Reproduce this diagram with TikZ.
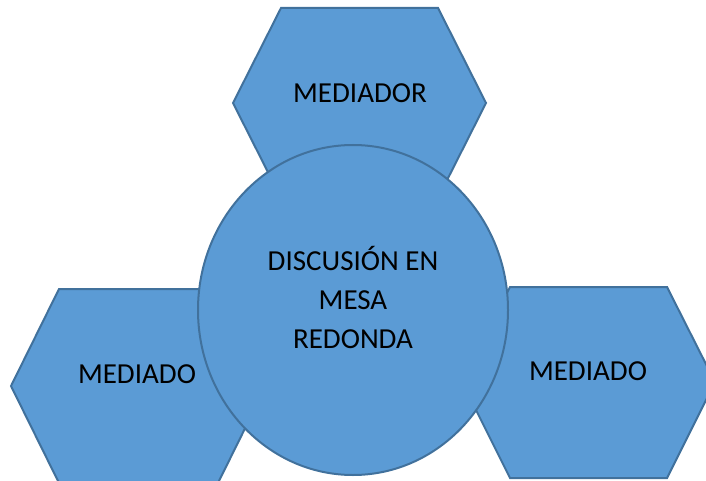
\documentclass[tikz,border=0pt]{standalone}
\usepackage{fontspec}
\setmainfont{Carlito}
\usetikzlibrary{shapes.geometric}
\definecolor{hexfill}{HTML}{5B9BD5}
\definecolor{hexline}{HTML}{41719C}
\begin{document}
\begin{tikzpicture}[x=1pt,y=-1pt,
  shapestyle/.style={fill=hexfill,draw=hexline,line width=2pt,line join=miter},
  lbl/.style={anchor=base,inner sep=0pt,font=\fontsize{29}{38}\selectfont,text=black}]
\useasboundingbox (0,0) rectangle (706,481);
% top hexagon
\draw[shapestyle] (281,8) -- (438,8) -- (486,103) -- (438,198) -- (281,198) -- (233,103) -- cycle;
% left hexagon
\draw[shapestyle] (59,289) -- (218,289) -- (266,386) -- (218,483) -- (59,483) -- (11,386) -- cycle;
% right hexagon
\draw[shapestyle] (510,287) -- (667,287) -- (715,382) -- (667,478) -- (510,478) -- (462,382) -- cycle;
% central ellipse
\node[shapestyle,ellipse,minimum width=310pt,minimum height=330pt,inner sep=0pt] (mesa) at (353,310) {};
\node[lbl] (med) at (360,103) {MEDIADOR};
\node[lbl] (izq) at (137,383) {MEDIADO};
\node[lbl] (der) at (588,380) {MEDIADO};
\node[lbl] (l1) at (353,270) {DISCUSIÓN EN};
\node[lbl] (l2) at (353,309) {MESA};
\node[lbl] (l3) at (353,348) {REDONDA};
\end{tikzpicture}
\end{document}
